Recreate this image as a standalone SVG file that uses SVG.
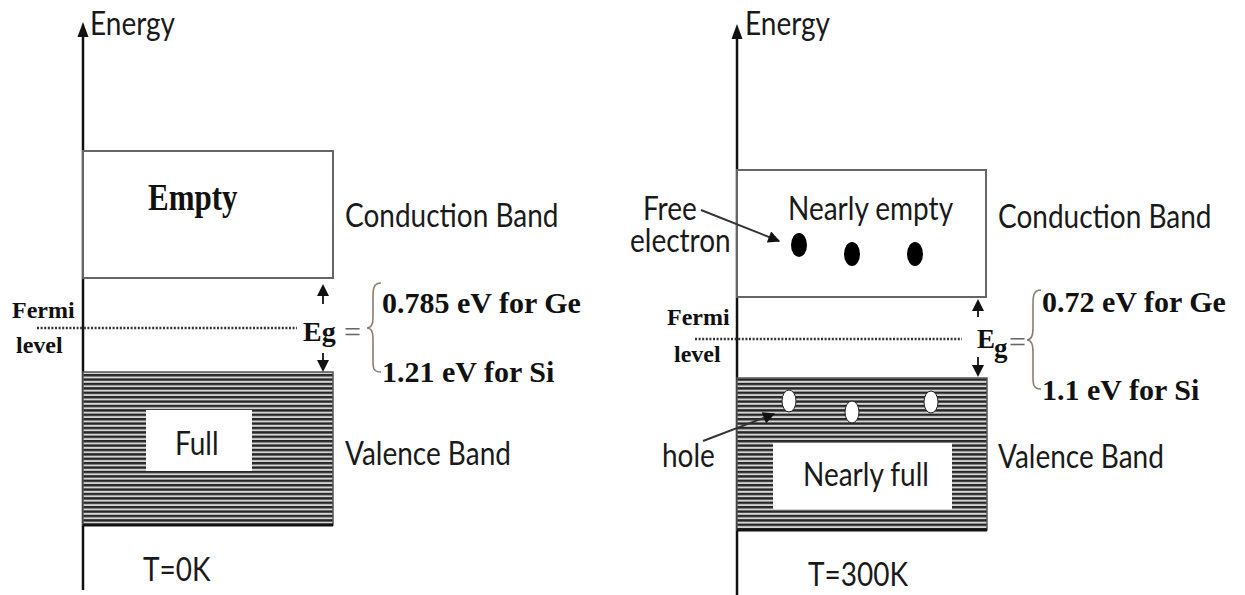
<svg xmlns="http://www.w3.org/2000/svg" width="1245" height="595" viewBox="0 0 1245 595">
<style>
.axis{stroke:#111;stroke-width:2.5;fill:none}
.head{fill:#111}
.box{stroke:#666;stroke-width:2;fill:#fff}
.val{stroke:#555;stroke-width:1.5;fill:url(#hatch)}
.bot{stroke:#111;stroke-width:3}
.inner{fill:#fff;stroke:none}
.fermi{stroke:#333;stroke-width:2.6;stroke-dasharray:2 1.6;fill:none}
.gap{stroke:#111;stroke-width:1.8;fill:none}
.brace{stroke:#8a7d70;stroke-width:1.6;fill:none}
.lead{stroke:#333;stroke-width:2;fill:none}
.sans{font-family:Lato,"Open Sans","DejaVu Sans",sans-serif;fill:#1a1a1a;font-size:28px}
.serif{font-family:"Liberation Serif","Times New Roman",serif;font-weight:bold;fill:#111}
.eq{font-family:"Liberation Serif",serif;fill:#666;font-size:30px}
</style>
<defs>
<pattern id="hatch" width="10" height="4.4" patternUnits="userSpaceOnUse">
<rect width="10" height="4.4" fill="#d4d4d4"/>
<rect width="10" height="2.4" fill="#262626"/>
</pattern>
<marker id="lead" viewBox="0 0 10 10" refX="9" refY="5" markerWidth="6.5" markerHeight="6" orient="auto" markerUnits="strokeWidth">
<path d="M0,0 L10,5 L0,10 z" fill="#111"/>
</marker>
</defs>
<rect width="1245" height="595" fill="#fff"/>

<g id="left-panel">
<g id="left-axis">
<line class="axis" x1="83" y1="590" x2="83" y2="34"/>
<polygon class="head" points="77.5,37 88.5,37 83,22"/>
<text class="sans" x="90" y="35" transform="matrix(1 0 0 1.18 0 -6.3)">Energy</text>
</g>
<g id="left-conduction">
<rect class="box" x="83" y="151" width="250" height="127"/>
<text class="serif" x="148" y="210" font-size="31" transform="matrix(1 0 0 1.2 0 -42)">Empty</text>
<text class="sans" x="345" y="227" font-size="27.5" transform="matrix(1 0 0 1.18 0 -40.86)">Conduction Band</text>
</g>
<g id="left-valence">
<rect class="val" x="83" y="372" width="250" height="153"/>
<line class="bot" x1="83" y1="525" x2="333" y2="525"/>
<rect class="inner" x="146" y="410" width="106" height="61"/>
<text class="sans" x="175" y="455" transform="matrix(1 0 0 1.18 0 -81.9)">Full</text>
<text class="sans" x="345" y="465" transform="matrix(1 0 0 1.18 0 -83.7)">Valence Band</text>
</g>
<g id="left-fermi">
<line class="fermi" x1="37" y1="328" x2="297" y2="328"/>
<text class="serif" x="12" y="318" font-size="24">Fermi</text>
<text class="serif" x="16" y="353" font-size="24">level</text>
</g>
<g id="left-gap">
<text class="serif" x="303" y="341" font-size="28">Eg</text>
<text class="eq" x="344" y="342">=</text>
<path class="brace" d="M381,283 C373,283 373,290 373,298 L373,318 C373,325 371,328 367,328 C371,328 373,331 373,338 L373,360 C373,368 373,372 381,372"/>
<text class="serif" x="382" y="313" font-size="30">0.785 eV for Ge</text>
<text class="serif" x="382" y="382" font-size="30">1.21 eV for Si</text>
</g>
<text class="sans" x="143" y="581" font-size="27" transform="matrix(1 0 0 1.18 0 -104.58)">T=0K</text>
</g>

<g id="right-panel">
<g id="right-axis">
<line class="axis" x1="737" y1="595" x2="737" y2="36"/>
<polygon class="head" points="731.5,39 742.5,39 737,24"/>
<text class="sans" x="745" y="35" transform="matrix(1 0 0 1.18 0 -6.3)">Energy</text>
</g>
<g id="right-conduction">
<rect class="box" x="737" y="170" width="249" height="127"/>
<text class="sans" x="788" y="220" transform="matrix(1 0 0 1.18 0 -39.6)">Nearly empty</text>
<ellipse cx="799" cy="245" rx="8" ry="12" fill="#000"/>
<ellipse cx="852" cy="254" rx="8" ry="12" fill="#000"/>
<ellipse cx="915" cy="254" rx="8" ry="12" fill="#000"/>
<text class="sans" x="998" y="228" font-size="27.5" transform="matrix(1 0 0 1.18 0 -41.04)">Conduction Band</text>
</g>
<g id="right-valence">
<rect class="val" x="737" y="378" width="250" height="152"/>
<line class="bot" x1="737" y1="530" x2="987" y2="530"/>
<rect class="inner" x="773" y="443" width="179" height="66"/>
<ellipse cx="789" cy="401" rx="7" ry="11" fill="#fff" stroke="#222" stroke-width="1"/>
<ellipse cx="852" cy="412" rx="7" ry="11" fill="#fff" stroke="#222" stroke-width="1"/>
<ellipse cx="931" cy="402" rx="7" ry="11" fill="#fff" stroke="#222" stroke-width="1"/>
<text class="sans" x="803" y="486" transform="matrix(1 0 0 1.18 0 -87.48)">Nearly full</text>
<text class="sans" x="998" y="468" transform="matrix(1 0 0 1.18 0 -84.24)">Valence Band</text>
</g>
<g id="right-fermi">
<line class="fermi" x1="695" y1="339" x2="962" y2="339"/>
<text class="serif" x="667" y="325" font-size="24">Fermi</text>
<text class="serif" x="674" y="362" font-size="24">level</text>
</g>
<g id="right-gap">
<text class="serif" x="977" y="348" font-size="27">E</text>
<text class="serif" x="994" y="357" font-size="27">g</text>
<text class="eq" x="1009" y="352" font-size="24">=</text>
<path class="brace" d="M1041,290 C1033,290 1033,297 1033,305 L1033,328 C1033,336 1031,340 1027,340 C1031,340 1033,344 1033,352 L1033,376 C1033,384 1033,389 1041,389"/>
<text class="serif" x="1042" y="312" font-size="30">0.72 eV for Ge</text>
<text class="serif" x="1042" y="400" font-size="30">1.1 eV for Si</text>
</g>
<g id="free-electron-label">
<text class="sans" x="643" y="220" transform="matrix(1 0 0 1.18 0 -39.6)">Free</text>
<text class="sans" x="630" y="252" transform="matrix(1 0 0 1.18 0 -45.36)">electron</text>
</g>
<g id="hole-label">
<text class="sans" x="662" y="467" transform="matrix(1 0 0 1.18 0 -84.06)">hole</text>
</g>
<text class="sans" x="808" y="586" font-size="26" transform="matrix(1 0 0 1.16 0 -93.76)">T=300K</text>
</g>

<g id="connectors">
<line class="gap" x1="323" y1="304" x2="323" y2="294"/>
<polygon class="head" points="317,296 329,296 323,284"/>
<line class="gap" x1="323" y1="353" x2="323" y2="362"/>
<polygon class="head" points="317,360 329,360 323,372"/>
<line class="gap" x1="978" y1="317" x2="978" y2="308"/>
<polygon class="head" points="972,311 984,311 978,299"/>
<line class="gap" x1="978" y1="357" x2="978" y2="367"/>
<polygon class="head" points="972,365 984,365 978,377"/>
<line class="lead" x1="701" y1="210" x2="779" y2="241" marker-end="url(#lead)"/>
<line class="lead" x1="703" y1="441" x2="774" y2="414" marker-end="url(#lead)"/>
</g>
</svg>
